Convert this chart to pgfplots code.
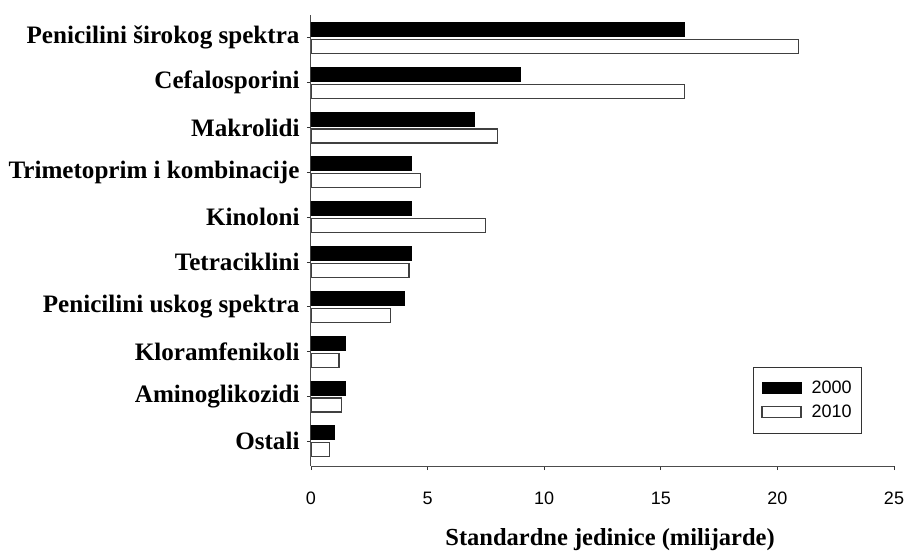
\documentclass[border=0pt]{standalone}
\usepackage{fontspec}
\setmainfont{Liberation Serif}
\newfontfamily\arial{Liberation Sans}
\usepackage{pgfplots}
\pgfplotsset{compat=1.18}
\begin{document}
\begin{tikzpicture}
\path[use as bounding box] (-311bp,-86bp) rectangle (595bp,466bp);
\begin{axis}[
  at={(0,0)}, anchor=south west,
  scale only axis, width=583bp, height=451bp,
  xbar, bar width=14bp,
  xmin=0, xmax=25, ymin=-0.55, ymax=9.51,
  axis x line=bottom, axis y line=left,
  axis line style={-, line width=1bp, black!70},
  xtick={0,5,...,25}, ytick={0,...,9},
  yticklabels={Ostali, Aminoglikozidi, Kloramfenikoli, Penicilini uskog spektra, Tetraciklini, Kinoloni, Trimetoprim i kombinacije, Makrolidi, Cefalosporini, Penicilini širokog spektra},
  tick align=outside, major tick length=4bp,
  tick style={black!80, line width=0.8bp},
  x tick label style={font=\arial\fontsize{18bp}{20bp}\selectfont, anchor=base, yshift=-34bp},
  y tick label style={font=\bfseries\fontsize{25.1bp}{29bp}\selectfont, xshift=-4bp},
  /pgf/number format/assume math mode=true,
  xlabel={Standardne jedinice (milijarde)},
  xlabel style={font=\bfseries\fontsize{24.5bp}{28bp}\selectfont, at={(axis description cs:0.513,0)}, anchor=center, yshift=-74bp},
  legend style={at={(0.758,0.22)}, anchor=north west, draw=black!80, line width=1bp,
    font=\arial\fontsize{18bp}{20bp}\selectfont, inner xsep=8bp, inner ysep=12bp,
    row sep=6bp, column sep=8bp, cells={anchor=west}},
]
\addplot[fill=black, draw=black, line width=1bp, bar shift=8.5bp,
  legend image code/.code={\draw[fill=black,draw=black,line width=1bp] (0bp,-5.5bp) rectangle (39bp,5.5bp);}]
  coordinates {(1.0,0) (1.5,1) (1.5,2) (4.0,3) (4.3,4) (4.3,5) (4.3,6) (7.0,7) (9.0,8) (16.0,9)};
\addplot[fill=white, draw=black!75, line width=1.2bp, bar shift=-8.5bp,
  legend image code/.code={\draw[fill=white,draw=black!75,line width=1.2bp] (0bp,-5.5bp) rectangle (39bp,5.5bp);}]
  coordinates {(0.8,0) (1.3,1) (1.2,2) (3.4,3) (4.2,4) (7.5,5) (4.7,6) (8.0,7) (16.0,8) (20.9,9)};
\legend{2000,2010}
\end{axis}
\end{tikzpicture}
\end{document}
